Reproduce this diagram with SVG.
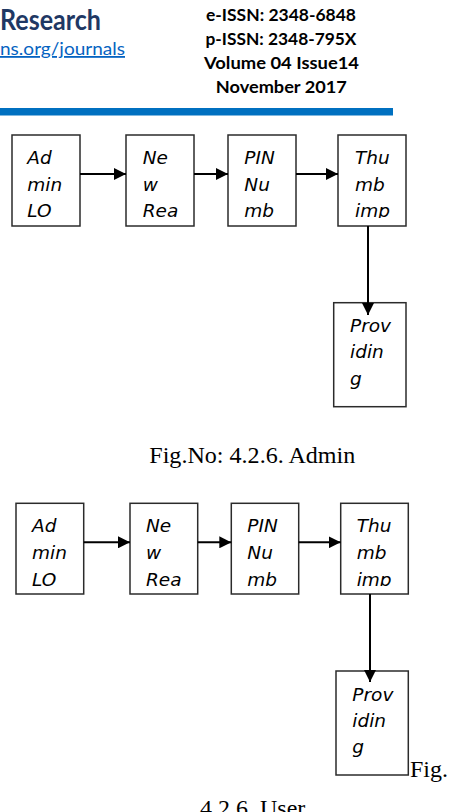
<svg xmlns="http://www.w3.org/2000/svg" width="452" height="812" viewBox="0 0 452 812">
<style>
.box{fill:#fff;stroke:#2b2b2b;stroke-width:1.5}
.lbl{font-family:"DejaVu Sans",sans-serif;font-style:oblique;font-size:18.5px;fill:#000}
.con{stroke:#000;stroke-width:2;fill:none;marker-end:url(#ah)}
.hdr{font-family:Lato,"Open Sans",sans-serif;font-weight:bold;font-size:17.5px;fill:#000;text-anchor:middle}
.cap{font-family:"Liberation Serif","Times New Roman",serif;font-size:24px;fill:#000}
</style>
<defs>
<marker id="ah" markerUnits="userSpaceOnUse" markerWidth="12" markerHeight="12" refX="12" refY="6" orient="auto">
<path d="M0,0 L12,6 L0,12 z" fill="#000"/>
</marker>
<clipPath id="c1"><rect x="12" y="135" width="400" height="83"/></clipPath>
<clipPath id="c2"><rect x="12" y="503" width="400" height="83"/></clipPath>
</defs>

<g id="header">
<text x="0" y="30" font-family="Lato,'Open Sans',sans-serif" font-weight="bold" font-size="28" fill="#1F3864" textLength="101" lengthAdjust="spacingAndGlyphs">Research</text>
<text x="0" y="55" font-family="Lato,'Open Sans',sans-serif" font-size="18" fill="#0563C1" text-decoration="underline" textLength="125" lengthAdjust="spacingAndGlyphs">ns.org/journals</text>
<text class="hdr" x="281" y="21" textLength="150" lengthAdjust="spacingAndGlyphs">e-ISSN: 2348-6848</text>
<text class="hdr" x="281" y="45" textLength="151" lengthAdjust="spacingAndGlyphs">p-ISSN: 2348-795X</text>
<text class="hdr" x="281.5" y="69" textLength="155" lengthAdjust="spacingAndGlyphs">Volume 04 Issue14</text>
<text class="hdr" x="281.3" y="93" textLength="131" lengthAdjust="spacingAndGlyphs">November 2017</text>
<rect x="0" y="108" width="393" height="7.5" fill="#0070C0"/>
</g>

<g id="admin-lo-1">
<rect class="box" x="12" y="135" width="68" height="91"/>
<g clip-path="url(#c1)"><text class="lbl" x="27.3" y="164">Ad</text><text class="lbl" x="27.3" y="190.7">min</text><text class="lbl" x="27.3" y="217.3">LO</text></g>
</g>
<g id="new-req-1">
<rect class="box" x="126" y="135" width="68" height="91"/>
<g clip-path="url(#c1)"><text class="lbl" x="142.7" y="164">Ne</text><text class="lbl" x="142.7" y="190.7">w</text><text class="lbl" x="142.7" y="217.3">Rea</text></g>
</g>
<g id="pin-1">
<rect class="box" x="228" y="135" width="68" height="91"/>
<g clip-path="url(#c1)"><text class="lbl" x="244.3" y="164">PIN</text><text class="lbl" x="244.3" y="190.7">Nu</text><text class="lbl" x="244.3" y="217.3">mb</text></g>
</g>
<g id="thumb-1">
<rect class="box" x="338" y="135" width="68" height="91"/>
<g clip-path="url(#c1)"><text class="lbl" x="355" y="164">Thu</text><text class="lbl" x="355" y="190.7">mb</text><text class="lbl" x="355" y="217.3">imp</text></g>
</g>
<g id="providing-1">
<rect class="box" x="333.7" y="302.7" width="72.3" height="104"/>
<text class="lbl" x="350" y="331.7">Prov</text><text class="lbl" x="350" y="358">idin</text><text class="lbl" x="350" y="384.5">g</text>
</g>
<g id="caption-1">
<text class="cap" x="149.3" y="463.3" textLength="206" lengthAdjust="spacingAndGlyphs">Fig.No: 4.2.6. Admin</text>
</g>

<g id="admin-lo-2">
<rect class="box" x="16" y="503.3" width="67.7" height="90.7"/>
<g clip-path="url(#c2)"><text class="lbl" x="32" y="532.3">Ad</text><text class="lbl" x="32" y="559">min</text><text class="lbl" x="32" y="585.7">LO</text></g>
</g>
<g id="new-req-2">
<rect class="box" x="130" y="503.3" width="67.7" height="90.7"/>
<g clip-path="url(#c2)"><text class="lbl" x="146" y="532.3">Ne</text><text class="lbl" x="146" y="559">w</text><text class="lbl" x="146" y="585.7">Rea</text></g>
</g>
<g id="pin-2">
<rect class="box" x="231.3" y="503.3" width="67.4" height="90.7"/>
<g clip-path="url(#c2)"><text class="lbl" x="247.3" y="532.3">PIN</text><text class="lbl" x="247.3" y="559">Nu</text><text class="lbl" x="247.3" y="585.7">mb</text></g>
</g>
<g id="thumb-2">
<rect class="box" x="340.7" y="503.3" width="67.6" height="90.7"/>
<g clip-path="url(#c2)"><text class="lbl" x="356.7" y="532.3">Thu</text><text class="lbl" x="356.7" y="559">mb</text><text class="lbl" x="356.7" y="585.7">imp</text></g>
</g>
<g id="providing-2">
<rect class="box" x="336" y="671" width="72.3" height="104"/>
<text class="lbl" x="352.3" y="700.7">Prov</text><text class="lbl" x="352.3" y="727">idin</text><text class="lbl" x="352.3" y="753">g</text>
</g>
<g id="caption-2">
<text class="cap" x="410" y="776.7">Fig.</text>
<text class="cap" x="200" y="815.5">4.2.6. User</text>
</g>

<g id="connectors">
<line class="con" x1="80" y1="174" x2="126" y2="174"/>
<line class="con" x1="194" y1="174" x2="228" y2="174"/>
<line class="con" x1="296" y1="174" x2="338" y2="174"/>
<line class="con" x1="368" y1="226" x2="368" y2="315"/>
<line class="con" x1="83.7" y1="542.3" x2="130" y2="542.3"/>
<line class="con" x1="197.7" y1="542.3" x2="231.3" y2="542.3"/>
<line class="con" x1="298.7" y1="542.3" x2="340.7" y2="542.3"/>
<line class="con" x1="370" y1="594" x2="370" y2="682"/>
</g>
</svg>
